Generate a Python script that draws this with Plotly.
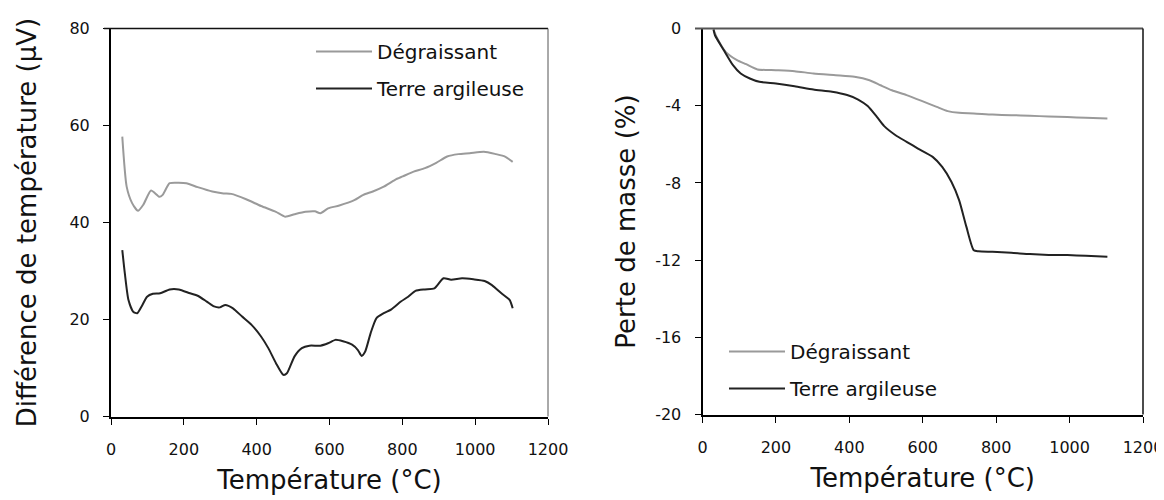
import plotly.graph_objects as go

# ---- Left panel: ATD (Différence de température, µV)
t_deg_atd = [31, 43, 58, 74, 89, 110, 133, 142, 161, 186, 207, 238, 278, 309, 330, 371, 412, 453, 478, 504, 534, 560, 575, 596, 627, 668, 693, 719, 749, 780, 801, 831, 862, 893, 923, 954, 985, 1024, 1057, 1082, 1103]
v_deg_atd = [57.7, 47.4, 44.0, 42.4, 43.7, 46.6, 45.3, 45.7, 48.1, 48.2, 48.1, 47.3, 46.4, 46.0, 45.9, 44.8, 43.4, 42.2, 41.2, 41.7, 42.2, 42.3, 41.9, 42.9, 43.5, 44.6, 45.7, 46.4, 47.4, 48.8, 49.5, 50.5, 51.2, 52.3, 53.6, 54.1, 54.3, 54.6, 54.1, 53.6, 52.5]

t_arg_atd = [31, 38, 48, 61, 72, 84, 99, 115, 135, 161, 186, 217, 238, 263, 283, 299, 314, 335, 360, 386, 412, 432, 453, 473, 483, 504, 524, 545, 575, 596, 616, 637, 662, 678, 688, 698, 713, 729, 749, 770, 796, 816, 836, 862, 888, 913, 934, 964, 995, 1026, 1046, 1072, 1095, 1103]
v_arg_atd = [34.3, 29.5, 24.0, 21.6, 21.3, 22.7, 24.7, 25.3, 25.4, 26.2, 26.2, 25.4, 24.9, 23.7, 22.7, 22.5, 23.0, 22.3, 20.6, 18.9, 16.5, 14.1, 11.0, 8.6, 8.9, 12.4, 14.1, 14.6, 14.6, 15.1, 15.8, 15.5, 14.8, 13.7, 12.5, 13.4, 17.2, 20.3, 21.3, 22.1, 23.7, 24.7, 25.9, 26.2, 26.4, 28.5, 28.2, 28.5, 28.3, 27.95, 27.1, 25.4, 24.0, 22.3]

# ---- Right panel: ATG (Perte de masse, %)
t_deg_atg = [30, 38, 63, 94, 119, 150, 200, 251, 302, 363, 414, 455, 485, 516, 556, 597, 638, 668, 699, 739, 790, 841, 892, 943, 994, 1044, 1103]
v_deg_atg = [-0.05, -0.43, -1.21, -1.64, -1.85, -2.12, -2.16, -2.21, -2.33, -2.42, -2.50, -2.68, -2.94, -3.20, -3.45, -3.75, -4.06, -4.28, -4.37, -4.40, -4.46, -4.49, -4.52, -4.56, -4.59, -4.63, -4.66]

t_arg_atg = [30, 34, 58, 83, 104, 129, 155, 200, 251, 302, 353, 394, 424, 450, 475, 495, 526, 556, 587, 627, 653, 678, 699, 719, 739, 752, 790, 841, 892, 943, 994, 1044, 1103]
v_arg_atg = [-0.05, -0.35, -1.12, -1.90, -2.33, -2.59, -2.76, -2.85, -2.99, -3.16, -3.28, -3.45, -3.68, -4.02, -4.58, -5.06, -5.53, -5.87, -6.22, -6.65, -7.17, -7.94, -8.89, -10.28, -11.49, -11.54, -11.57, -11.62, -11.69, -11.73, -11.74, -11.78, -11.83]

names = ["Dégraissant", "Terre argileuse"]
x_ticks = [0, 200, 400, 600, 800, 1000, 1200]
y1_ticks = [0, 20, 40, 60, 80]
y2_ticks = [-20, -16, -12, -8, -4, 0]
y2_ticktext = ["-20", "-16", "-12", "-8", "-4", "0"]

GRAY = "#9a9a9a"
BLACK = "#222222"
FONT = "DejaVu Sans"
W, H = 1164, 500

fig = go.Figure()
fig.add_trace(go.Scatter(x=t_deg_atd, y=v_deg_atd, mode="lines", name=names[0],
                         line=dict(color=GRAY, width=2, shape="spline", smoothing=0.6),
                         xaxis="x", yaxis="y", legend="legend", legendgroup="a1"))
fig.add_trace(go.Scatter(x=t_arg_atd, y=v_arg_atd, mode="lines", name=names[1],
                         line=dict(color=BLACK, width=2, shape="spline", smoothing=0.6),
                         xaxis="x", yaxis="y", legend="legend", legendgroup="a2"))
fig.add_trace(go.Scatter(x=t_deg_atg, y=v_deg_atg, mode="lines", name=names[0],
                         line=dict(color=GRAY, width=2, shape="spline", smoothing=0.6),
                         xaxis="x2", yaxis="y2", legend="legend2", legendgroup="b1"))
fig.add_trace(go.Scatter(x=t_arg_atg, y=v_arg_atg, mode="lines", name=names[1],
                         line=dict(color=BLACK, width=2, shape="spline", smoothing=0.6),
                         xaxis="x2", yaxis="y2", legend="legend2", legendgroup="b2"))

xl = [103 / W, 540 / W]
xr = [694.5 / W, 1135 / W]
yl = [1 - 408.5 / H, 1 - 20.5 / H]
yr = [1 - 406.5 / H, 1 - 20.5 / H]

axis_common = dict(showline=True, linecolor="black", linewidth=2, ticks="outside",
                   ticklen=6, tickwidth=1, tickcolor="black", showgrid=False,
                   zeroline=False, automargin=False,
                   tickfont=dict(family=FONT, size=16, color="#111"))
title_font = dict(family=FONT, size=26, color="#111")

fig.update_layout(
    template="none",
    width=W, height=H,
    margin=dict(l=0, r=0, t=0, b=0, autoexpand=False),
    paper_bgcolor="white", plot_bgcolor="white",
    font=dict(family=FONT, color="#111"),
    xaxis=dict(domain=xl, range=[0, 1200], tickvals=x_ticks, anchor="y", ticklabelstandoff=11,
               title=dict(text="Température (°C)", font=title_font, standoff=13),
               **axis_common),
    yaxis=dict(domain=yl, range=[0, 80], tickvals=y1_ticks, anchor="x", ticklabelstandoff=10,
               title=dict(text="Différence de température (µV)", font=title_font, standoff=25),
               **axis_common),
    xaxis2=dict(domain=xr, range=[0, 1200], tickvals=x_ticks, anchor="y2", ticklabelstandoff=11,
                title=dict(text="Température (°C)", font=title_font, standoff=13),
                **axis_common),
    yaxis2=dict(domain=yr, range=[-20, 0], tickvals=y2_ticks, ticktext=y2_ticktext,
                anchor="x2", ticklabelstandoff=10,
                title=dict(text="Perte de masse (%)", font=title_font, standoff=12),
                **axis_common),
    legend=dict(x=303 / W, y=1 - 24 / H, xanchor="left", yanchor="top",
                bgcolor="rgba(0,0,0,0)", font=dict(family=FONT, size=20, color="#111"),
                tracegroupgap=8, traceorder="grouped", itemwidth=56),
    legend2=dict(x=716 / W, y=1 - 324 / H, xanchor="left", yanchor="top",
                 bgcolor="rgba(0,0,0,0)", font=dict(family=FONT, size=20, color="#111"),
                 tracegroupgap=8, traceorder="grouped", itemwidth=56),
    showlegend=True,
)

# top / right frame lines
fig.add_shape(type="line", xref="paper", yref="paper", x0=96 / W, x1=xl[1], y0=yl[1], y1=yl[1],
              line=dict(color="#111", width=1.5))
fig.add_shape(type="line", xref="paper", yref="paper", x0=xl[1], x1=xl[1], y0=yl[0], y1=yl[1],
              line=dict(color="#555", width=1))
fig.add_shape(type="line", xref="paper", yref="paper", x0=687 / W, x1=xr[1], y0=yr[1], y1=yr[1],
              line=dict(color="#555", width=2))
fig.add_shape(type="line", xref="paper", yref="paper", x0=xr[1], x1=xr[1], y0=yr[0], y1=yr[1],
              line=dict(color="#111", width=1.5))

fig.write_html("out.html")
